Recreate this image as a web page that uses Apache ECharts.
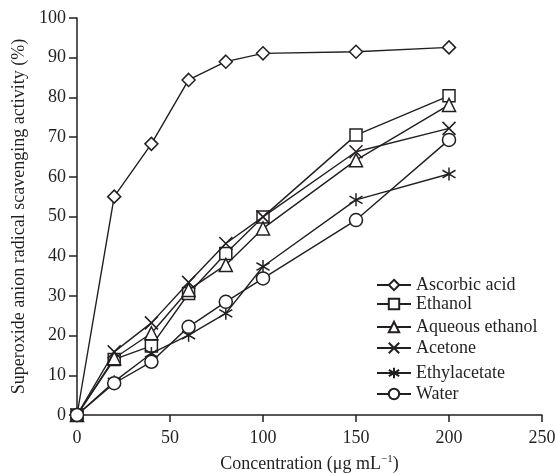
<!DOCTYPE html>
<html><head><meta charset="utf-8">
<script src="https://cdn.jsdelivr.net/npm/echarts@6/dist/echarts.min.js"></script>
<style>html,body{margin:0;padding:0;background:#fff}#c{width:557px;height:473px}</style>
</head><body><div id="c"></div>
<script>
const concentrations = [0, 20, 40, 60, 80, 100, 150, 200];
const ascorbicAcid = [0, 55.0, 68.3, 84.4, 89.0, 91.1, 91.5, 92.6];
const ethanol = [0, 14.0, 17.4, 30.6, 40.7, 49.9, 70.5, 80.4];
const aqueousEthanol = [0, 14.3, 20.6, 31.5, 37.8, 47.0, 64.2, 78.1];
const acetone = [0, 15.9, 23.2, 33.4, 43.2, 49.9, 66.3, 72.2];
const ethylacetate = [0, 8.4, 15.5, 20.1, 25.6, 37.4, 54.2, 60.7];
const water = [0, 8.0, 13.4, 22.2, 28.5, 34.4, 49.1, 69.3];
const seriesNames = ['Ascorbic acid', 'Ethanol', 'Aqueous ethanol', 'Acetone', 'Ethylacetate', 'Water'];
const seriesValues = [ascorbicAcid, ethanol, aqueousEthanol, acetone, ethylacetate, water];

const INK = '#231f20';
const FONT = 'Liberation Serif';
const symbols = [
  'diamond',
  'rect',
  'triangle',
  'path://M0,0 L10,10 M10,0 L0,10',
  'path://M0,1.5 L10,8.5 M10,1.5 L0,8.5 M5,-1 L5,11',
  'circle'
];
const sizes = [13, 12, 13, 13, 13, 13];
const legendTops = [285, 304, 327, 348, 373, 394];

const chart = echarts.init(document.getElementById('c'), null, {renderer: 'canvas'});
chart.setOption({
  animation: false,
  backgroundColor: '#fff',
  textStyle: {fontFamily: FONT, color: INK},
  grid: {left: 77, right: 15, top: 18, bottom: 58, containLabel: false, outerBoundsMode: 'none'},
  xAxis: {
    type: 'value', min: 0, max: 250, interval: 50,
    name: 'Concentration (μg mL{sup|−1})',
    nameLocation: 'middle', nameGap: 39,
    nameTextStyle: {fontFamily: FONT, fontSize: 18, color: INK,
      rich: {sup: {fontFamily: FONT, fontSize: 11, color: INK, verticalAlign: 'top', padding: [0, 0, 9, 0]}}},
    axisLine: {lineStyle: {color: INK, width: 1.5}},
    axisTick: {inside: false, length: 7, lineStyle: {color: INK, width: 1.5}},
    axisLabel: {fontFamily: FONT, fontSize: 18, color: INK, margin: 14},
    splitLine: {show: false}
  },
  yAxis: {
    type: 'value', min: 0, max: 100, interval: 10,
    name: 'Superoxide anion radical scavenging activity (%)',
    nameLocation: 'middle', nameGap: 46, nameRotate: 90,
    nameTextStyle: {fontFamily: FONT, fontSize: 18, color: INK},
    axisLine: {lineStyle: {color: INK, width: 1.5}},
    axisTick: {inside: false, length: 8, lineStyle: {color: INK, width: 1.5}},
    axisLabel: {fontFamily: FONT, fontSize: 18, color: INK, margin: 11},
    splitLine: {show: false}
  },
  legend: seriesNames.map((n, i) => ({
    data: [n], left: 376, top: legendTops[i] - 9, orient: 'vertical',
    itemWidth: 34, itemHeight: 13, padding: 0,
    textStyle: {fontFamily: FONT, fontSize: 18, color: INK, lineHeight: 18}
  })),
  series: seriesNames.map((n, i) => ({
    name: n, type: 'line',
    data: concentrations.map((x, j) => [x, seriesValues[i][j]]),
    symbol: symbols[i], symbolSize: sizes[i], showAllSymbol: true,
    lineStyle: {color: INK, width: 1.4},
    itemStyle: {color: '#fff', borderColor: INK, borderWidth: 1.5},
    emphasis: {disabled: true},
    z: 2 + i
  }))
});
</script></body></html>
